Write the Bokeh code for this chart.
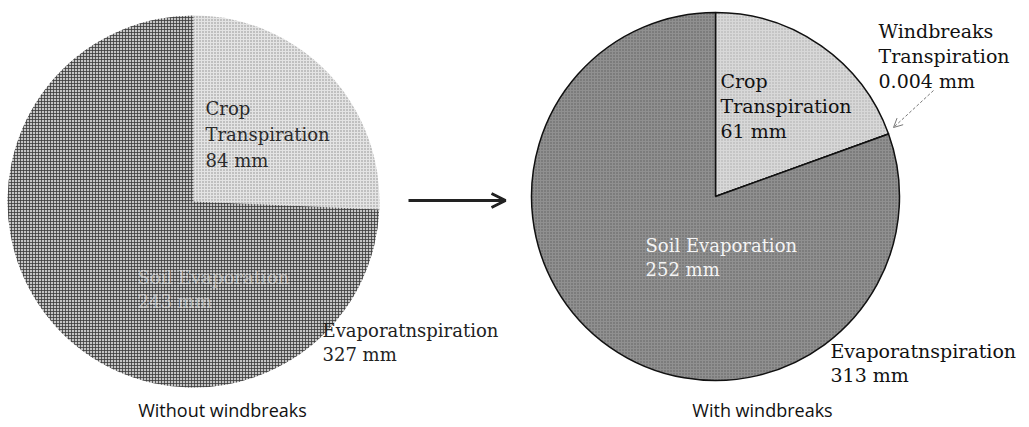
import math
from bokeh.plotting import figure
from bokeh.models import Range1d, Arrow, OpenHead, ColumnDataSource
from bokeh.core.properties import value
from bokeh.embed import file_html
from bokeh.resources import INLINE

# Water use components (mm) for the two cases
without_parts = ["Crop Transpiration", "Soil Evaporation"]
without_mm = [84, 243]
with_parts = ["Crop Transpiration", "Windbreaks Transpiration", "Soil Evaporation"]
with_mm = [61, 0.004, 252]

captions = ["Without windbreaks", "With windbreaks"]

W, H = 1029, 427


def wedge_angles(values):
    total = sum(values)
    starts, ends = [], []
    acc = 0.0
    for v in values:
        a0 = math.pi / 2 - 2 * math.pi * acc / total
        acc += v
        a1 = math.pi / 2 - 2 * math.pi * acc / total
        starts.append(a0)
        ends.append(a1)
    return starts, ends


def Y(py):
    # screen-style y (from top) to data y
    return H - py


p = figure(width=W, height=H, x_range=Range1d(0, W), y_range=Range1d(0, H),
           output_backend="svg", toolbar_location=None, min_border=0)
p.axis.visible = False
p.grid.visible = False
p.outline_line_color = None
p.background_fill_color = "white"
p.border_fill_color = "white"

# ---- left pie: without windbreaks ----
ls, le = wedge_angles(without_mm)
left_src = ColumnDataSource(dict(
    part=without_parts, mm=without_mm, start=ls, end=le,
    fill=["#e4e4e4", "#c4c4c4"],
    hatch=["#8a8a8a", "#3a3a3a"],
    pattern=["dot", "cross"],
))
p.wedge(x=193, y=Y(201), radius=186, start_angle="start", end_angle="end",
        direction="clock", source=left_src, fill_color="fill",
        hatch_pattern="pattern", hatch_color="hatch", hatch_scale=3,
        hatch_weight=0.8, line_color=None)

# ---- right pie: with windbreaks ----
rs, re_ = wedge_angles(with_mm)
right_src = ColumnDataSource(dict(
    part=with_parts, mm=with_mm, start=rs, end=re_,
    fill=["#d8d8d8", "#d8d8d8", "#909090"],
    hatch=["#a8a8a8", "#a8a8a8", "#5e5e5e"],
))
p.wedge(x=715, y=Y(196), radius=184, start_angle="start", end_angle="end",
        direction="clock", source=right_src, fill_color="fill",
        hatch_pattern="dot", hatch_color="hatch", hatch_scale=3,
        hatch_weight=1, line_color="#111111", line_width=1.5)

serif = value("DejaVu Serif")

def label(lines, x, y0, dy, color, size, alpha=1.0, font=serif, align="left"):
    ys = [Y(y0 + i * dy) for i in range(len(lines))]
    p.text(x=[x] * len(lines), y=ys, text=lines, text_font=font,
           text_font_size=size, text_color=color, text_alpha=alpha,
           text_align=align, text_baseline="middle")

# left pie labels
label(["Crop", "Transpiration", f"{without_mm[0]} mm"], 205, 108, 26,
      "#2a2a2a", "18px")
label(["Soil Evaporation", f"{without_mm[1]} mm"], 137, 277, 24,
      "#e6e6e6", "18px", alpha=0.55)
label(["Evaporatnspiration", f"{sum(without_mm)} mm"], 322, 330, 24,
      "#222222", "18px")

# right pie labels
label(["Crop", "Transpiration", f"{with_mm[0]} mm"], 720, 80, 25,
      "#111111", "19px")
label(["Soil Evaporation", f"{with_mm[2]} mm"], 645, 245, 24,
      "#f4f4f4", "18px")
label(["Windbreaks", "Transpiration", f"{with_mm[1]} mm"], 878, 30, 25,
      "#111111", "19px")
label(["Evaporatnspiration", f"{round(sum(with_mm))} mm"], 830, 350, 24,
      "#111111", "19px")

# captions
sans = value("Open Sans")
p.text(x=[222, 762], y=[Y(409), Y(409)], text=captions, text_font=sans,
       text_font_size="18px", text_color="#111111", text_align="center",
       text_baseline="middle")

# arrow between the two pies
p.add_layout(Arrow(x_start=408, y_start=Y(200), x_end=505, y_end=Y(200),
                   line_color="#222222", line_width=3,
                   end=OpenHead(size=14, line_width=3, line_color="#222222")))

# dashed pointer to the tiny windbreak slice
p.add_layout(Arrow(x_start=933, y_start=Y(90), x_end=893, y_end=Y(127),
                   line_color="#777777", line_width=1, line_dash="3 2",
                   end=OpenHead(size=9, line_width=1, line_color="#777777")))

open("out.html", "w").write(file_html(p, INLINE))
